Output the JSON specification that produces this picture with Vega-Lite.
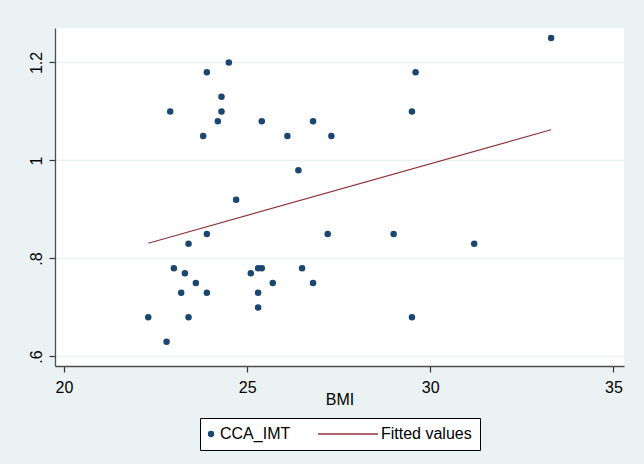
{
  "$schema": "https://vega.github.io/schema/vega-lite/v6.json",
  "width": 569,
  "height": 338,
  "autosize": {"type": "none"},
  "padding": {"left": 55, "top": 28, "right": 20, "bottom": 98},
  "background": "#EAF2F3",
  "data": {
    "values": [
      {"BMI": 22.9, "CCA_IMT": 1.10},
      {"BMI": 23.9, "CCA_IMT": 1.18},
      {"BMI": 24.5, "CCA_IMT": 1.20},
      {"BMI": 24.3, "CCA_IMT": 1.13},
      {"BMI": 24.3, "CCA_IMT": 1.10},
      {"BMI": 24.2, "CCA_IMT": 1.08},
      {"BMI": 23.8, "CCA_IMT": 1.05},
      {"BMI": 25.4, "CCA_IMT": 1.08},
      {"BMI": 26.1, "CCA_IMT": 1.05},
      {"BMI": 26.8, "CCA_IMT": 1.08},
      {"BMI": 27.3, "CCA_IMT": 1.05},
      {"BMI": 26.4, "CCA_IMT": 0.98},
      {"BMI": 24.7, "CCA_IMT": 0.92},
      {"BMI": 23.9, "CCA_IMT": 0.85},
      {"BMI": 23.4, "CCA_IMT": 0.83},
      {"BMI": 27.2, "CCA_IMT": 0.85},
      {"BMI": 29.0, "CCA_IMT": 0.85},
      {"BMI": 31.2, "CCA_IMT": 0.83},
      {"BMI": 33.3, "CCA_IMT": 1.25},
      {"BMI": 29.6, "CCA_IMT": 1.18},
      {"BMI": 29.5, "CCA_IMT": 1.10},
      {"BMI": 29.5, "CCA_IMT": 0.68},
      {"BMI": 22.3, "CCA_IMT": 0.68},
      {"BMI": 22.8, "CCA_IMT": 0.63},
      {"BMI": 23.0, "CCA_IMT": 0.78},
      {"BMI": 23.3, "CCA_IMT": 0.77},
      {"BMI": 23.2, "CCA_IMT": 0.73},
      {"BMI": 23.6, "CCA_IMT": 0.75},
      {"BMI": 23.4, "CCA_IMT": 0.68},
      {"BMI": 23.9, "CCA_IMT": 0.73},
      {"BMI": 25.1, "CCA_IMT": 0.77},
      {"BMI": 25.3, "CCA_IMT": 0.78},
      {"BMI": 25.4, "CCA_IMT": 0.78},
      {"BMI": 25.3, "CCA_IMT": 0.73},
      {"BMI": 25.3, "CCA_IMT": 0.70},
      {"BMI": 25.7, "CCA_IMT": 0.75},
      {"BMI": 26.5, "CCA_IMT": 0.78},
      {"BMI": 26.8, "CCA_IMT": 0.75}
    ]
  },
  "encoding": {
    "x": {
      "field": "BMI",
      "type": "quantitative",
      "title": "BMI",
      "scale": {"domain": [19.754, 35.29], "nice": false, "zero": false},
      "axis": {"values": [20, 25, 30, 35], "grid": false}
    },
    "y": {
      "field": "CCA_IMT",
      "type": "quantitative",
      "title": null,
      "scale": {"domain": [0.5806, 1.2704], "nice": false, "zero": false},
      "axis": {
        "values": [0.6, 0.8, 1, 1.2],
        "grid": true,
        "labelAngle": -90,
        "labelExpr": "replace(format(datum.value, '.1~f'), '0.', '.')"
      }
    }
  },
  "layer": [
    {
      "mark": {"type": "point", "filled": true, "opacity": 1, "size": 42, "shape": "circle"},
      "encoding": {
        "color": {
          "datum": "CCA_IMT",
          "scale": {"domain": ["CCA_IMT", "Fitted values"], "range": ["#1A476F", "#90353B"]},
          "legend": {
            "orient": "bottom",
            "direction": "horizontal",
            "title": null,
            "strokeColor": "black",
            "fillColor": "white",
            "padding": 8,
            "labelFont": "Liberation Sans",
            "labelFontSize": 16,
            "labelColor": "black",
            "symbolSize": 25,
            "symbolOffset": -5,
            "labelOffset": 1,
            "columnPadding": 24,
            "symbolStrokeWidth": 1.3,
            "symbolOpacity": 1,
            "offset": 11,
            "symbolType": {"expr": "datum.value === 'CCA_IMT' ? 'circle' : 'M-21.6,0H2.4'"}
          }
        }
      }
    },
    {
      "transform": [{"regression": "CCA_IMT", "on": "BMI"}],
      "mark": {"type": "line", "strokeWidth": 1.2},
      "encoding": {
        "color": {"datum": "Fitted values"}
      }
    }
  ],
  "config": {
    "view": {"fill": "white", "stroke": null},
    "font": "Liberation Sans",
    "axis": {
      "labelFont": "Liberation Sans",
      "labelFontSize": 16,
      "labelColor": "black",
      "titleFont": "Liberation Sans",
      "titleFontSize": 16,
      "titleFontWeight": "normal",
      "titleColor": "black",
      "domainColor": "#4d4d4d",
      "domainWidth": 1.3,
      "tickColor": "#333333",
      "tickWidth": 1.2,
      "tickSize": 6,
      "gridColor": "#EAF2F3",
      "gridWidth": 1.3
    },
    "axisX": {"labelPadding": 7, "titlePadding": -4},
    "axisY": {"labelPadding": 5},
    "legend": {"layout": {"bottom": {"anchor": "middle"}}}
  }
}
